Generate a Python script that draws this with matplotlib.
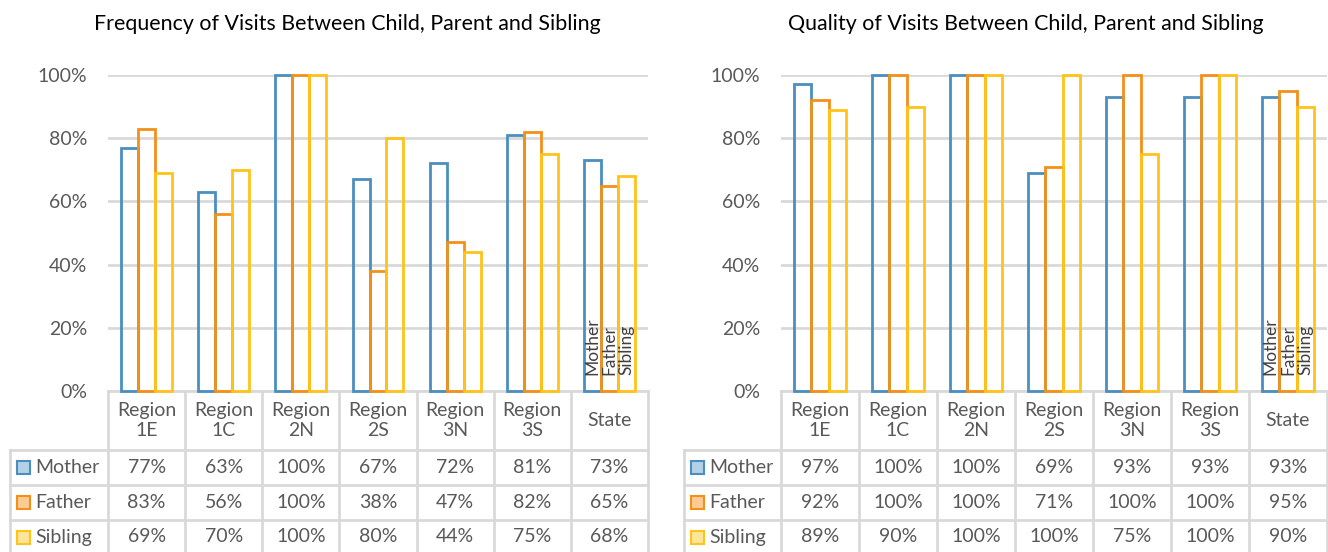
import matplotlib
matplotlib.use('Agg')
import matplotlib.pyplot as plt
from matplotlib.patches import Rectangle
import numpy as np

plt.rcParams['font.family'] = ['Lato', 'DejaVu Sans']

# 데이터
categories = ['Region\n1E', 'Region\n1C', 'Region\n2N', 'Region\n2S', 'Region\n3N', 'Region\n3S', 'State']
series = ['Mother', 'Father', 'Sibling']
freq_mother = [77, 63, 100, 67, 72, 81, 73]
freq_father = [83, 56, 100, 38, 47, 82, 65]
freq_sibling = [69, 70, 100, 80, 44, 75, 68]
qual_mother = [97, 100, 100, 69, 93, 93, 93]
qual_father = [92, 100, 100, 71, 100, 100, 95]
qual_sibling = [89, 90, 100, 100, 75, 100, 90]

edge_colors = ['#4A8FC0', '#F39019', '#FFC31A']
key_colors = ['#B4D0E4', '#FBCB94', '#FFE59A']
grid_c = '#D9D9D9'
text_c = '#595959'
fs = 14

W, H = 1328, 552
fig = plt.figure(figsize=(W / 100, H / 100), dpi=100)

# 전체 픽셀 좌표용 축 (표 그리기)
over = fig.add_axes([0, 0, 1, 1], zorder=0)
over.set_xlim(0, W)
over.set_ylim(H, 0)
over.axis('off')

y_top, y_zero = 75, 391
row_edges = [391, 450, 485, 520, 556]


def panel(x0, x1, lab_x0, title, title_x, data):
    ax = fig.add_axes([x0 / W, (H - y_zero) / H, (x1 - x0) / W, (y_zero - y_top) / H], zorder=2)
    ax.set_facecolor('none')
    n = len(categories)
    x = np.arange(n)
    bw = 0.22
    for i, (name, vals) in enumerate(zip(series, data)):
        ax.bar(x + (i - 1) * bw, np.array(vals) / 100, width=bw, facecolor='none',
               edgecolor=edge_colors[i], linewidth=2, clip_on=False, zorder=3)
        ax.text(n - 1 + (i - 1) * bw, 0.05, name, rotation=90, ha='center', va='bottom',
                fontsize=12.5, color='#404040', zorder=4)
    ax.set_xlim(-0.5, n - 0.5)
    ax.set_ylim(0, 1)
    ax.set_yticks(np.arange(0, 1.01, 0.2))
    ax.set_yticklabels([f'{int(round(v * 100))}%' for v in np.arange(0, 1.01, 0.2)])
    ax.tick_params(axis='y', length=0, pad=15, labelsize=fs, labelcolor=text_c)
    ax.set_xticks([])
    for s in ax.spines.values():
        s.set_visible(False)
    ax.grid(axis='y', color=grid_c, linewidth=2)
    ax.set_axisbelow(True)

    fig.text(title_x / W, 1 - 24 / H, title, ha='center', va='center', fontsize=15.4, color='black')

    # 표
    cw = (x1 - x0) / n
    lw = 2
    over.plot([x0, x1], [row_edges[0]] * 2, color=grid_c, lw=lw)
    for yy in row_edges[1:]:
        over.plot([lab_x0, x1], [yy] * 2, color=grid_c, lw=lw)
    for k in range(n + 1):
        over.plot([x0 + k * cw] * 2, [row_edges[0], H], color=grid_c, lw=lw)
    over.plot([lab_x0] * 2, [row_edges[1], H], color=grid_c, lw=lw)

    for k, c in enumerate(categories):
        over.text(x0 + (k + 0.5) * cw, (row_edges[0] + row_edges[1]) / 2, c, ha='center',
                  va='center', fontsize=fs, color=text_c, linespacing=1.15)
    for r, (name, vals) in enumerate(zip(series, data)):
        yc = (row_edges[r + 1] + row_edges[r + 2]) / 2
        if r == 2:
            yc = 537
        over.add_patch(Rectangle((lab_x0 + 7, yc - 6.5), 13, 13, facecolor=key_colors[r],
                                 edgecolor=edge_colors[r], lw=1.5))
        over.text(lab_x0 + 25, yc, name, ha='left', va='center', fontsize=fs, color=text_c)
        for k, v in enumerate(vals):
            over.text(x0 + (k + 0.5) * cw, yc, f'{v}%', ha='center', va='center',
                      fontsize=fs, color=text_c)


panel(108, 648, 10, 'Frequency of Visits Between Child, Parent and Sibling', 347,
      [freq_mother, freq_father, freq_sibling])
panel(781, 1327, 684, 'Quality of Visits Between Child, Parent and Sibling', 1026,
      [qual_mother, qual_father, qual_sibling])

fig.savefig('out.png', dpi=100)
